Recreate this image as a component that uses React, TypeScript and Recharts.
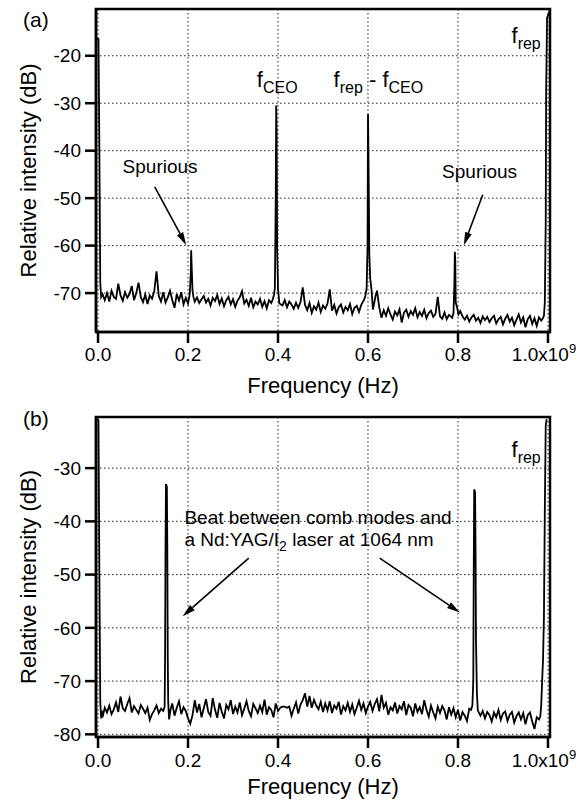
import { LineChart, Line, XAxis, YAxis, CartesianGrid, ReferenceArea, ReferenceLine, ReferenceDot } from "recharts";

const FONT = '"Liberation Sans", Arial, Helvetica, sans-serif';

// frequency axis in units of 1e9 Hz
const X_TICKS = [0, 0.2, 0.4, 0.6, 0.8, 1.0];
const X_DOMAIN: [number, number] = [-0.0045, 1.0045];
const Y_TICKS_A = [-70, -60, -50, -40, -30, -20];
const Y_DOMAIN_A: [number, number] = [-78.2, -10.15];
const Y_TICKS_B = [-80, -70, -60, -50, -40, -30];
const Y_DOMAIN_B: [number, number] = [-80.5, -20.4];

// noise floor sampled every 0.005 starting at 0.010
const NOISE_START = 0.01;
const NOISE_STEP = 0.005;

const NOISE_A = [
  -70.2, -71.5, -70.0, -71.8, -69.5, -70.8, -71.2, -68.0, -70.5, -71.6,
  -69.8, -71.0, -70.2, -68.5, -71.5, -70.0, -67.8, -70.8, -71.9, -70.3,
  -72.3, -70.5, -71.2, -69.6, -65.4, -70.6, -71.8, -69.8, -72.0, -70.9,
  -69.5, -71.5, -73.1, -70.2, -71.6, -69.8, -72.4, -71.0, -72.2, -70.8,
  -70.5, -71.8, -70.9, -72.1, -71.3, -70.6, -72.0, -71.2, -72.6, -71.0,
  -71.7, -70.4, -72.3, -71.1, -72.8, -71.5, -70.8, -72.4, -71.3, -72.9,
  -71.6, -70.9, -69.6, -72.2, -71.4, -72.7, -71.0, -73.0, -71.8, -72.4,
  -71.2, -72.9, -71.7, -73.2, -71.5, -72.1, -71.0, -72.0, -72.0, -72.3,
  -72.6, -71.5, -73.0, -71.8, -72.4, -73.3, -72.0, -73.1, -71.9, -68.8,
  -72.5, -73.6, -72.1, -74.2, -72.8, -73.5, -72.0, -74.0, -72.6, -73.3,
  -72.2, -69.2, -73.7, -72.5, -74.3, -73.0, -72.4, -74.1, -72.9, -73.6,
  -72.3, -74.4, -73.1, -72.7, -74.0, -72.5, -71.6, -72.0, -72.0, -72.0,
  -72.0, -72.0, -69.5, -73.0, -75.2, -73.6, -74.8, -73.2, -74.5, -75.6,
  -73.9, -74.7, -73.4, -76.2, -74.1, -73.5, -75.0, -73.8, -74.6, -73.2,
  -75.1, -74.0, -74.8, -73.5, -75.3, -74.2, -73.7, -75.0, -74.4, -70.8,
  -74.9, -75.4, -74.1, -75.5, -74.6, -75.0, -75.0, -75.0, -75.0, -73.8,
  -74.9, -75.6, -74.8, -76.0, -75.1, -74.6, -75.8, -75.2, -76.3, -74.9,
  -75.7, -75.0, -76.1, -75.3, -74.8, -76.4, -75.5, -75.0, -76.6, -75.4,
  -74.6, -76.0, -75.2, -76.8, -75.6, -74.5, -76.2, -75.1, -77.2, -75.5,
  -74.8, -76.5, -75.3, -76.9, -75.1, -75.8,
];

// sharp lines in panel (a): [frequency, dB]
const PEAKS_A: [number, number][][] = [
  [[-0.0045, -16.3], [0.001, -16.5], [0.003, -40], [0.005, -68], [0.007, -70.8]],
  [[0.202, -71.2], [0.204, -70.0], [0.206, -66], [0.207, -61.0], [0.208, -64], [0.21, -69.5], [0.212, -70.8]],
  [[0.388, -71.4], [0.391, -70.4], [0.393, -69], [0.395, -50], [0.396, -30.5], [0.397, -36], [0.398, -60], [0.4, -69], [0.403, -72.2]],
  [[0.591, -71.5], [0.594, -70.6], [0.597, -69], [0.599, -60], [0.6, -32.3], [0.601, -40], [0.603, -62], [0.605, -67], [0.608, -69.5], [0.611, -73.5], [0.614, -72.0], [0.617, -70.5]],
  [[0.787, -75.2], [0.79, -74.2], [0.792, -68], [0.793, -61.3], [0.794, -63], [0.795, -72], [0.798, -73], [0.801, -74.5]],
  [[0.988, -75.4], [0.991, -74.8], [0.993, -72], [0.995, -55], [0.996, -27], [0.998, -12], [1.0045, -10.4]],
];

const NOISE_B = [
  -76.8, -75.0, -75.9, -74.6, -76.2, -75.3, -74.0, -75.8, -72.9, -75.1,
  -75.6, -74.3, -73.2, -75.9, -74.7, -75.4, -76.1, -74.5, -75.2, -76.0,
  -75.0, -77.3, -76.2, -75.5, -74.6, -76.0, -75.2, -75.7, -75.0, -75.0,
  -75.8, -74.2, -76.5, -75.0, -73.8, -76.2, -74.9, -75.6, -77.0, -78.0,
  -76.4, -73.6, -75.9, -74.3, -76.8, -75.1, -73.4, -75.8, -76.5, -73.2,
  -75.4, -76.9, -74.1, -75.7, -77.0, -74.5, -75.3, -73.6, -76.2, -74.8,
  -75.9, -74.0, -76.4, -75.2, -73.8, -75.6, -76.6, -74.3, -75.1, -76.0,
  -74.6, -75.8, -73.5, -76.3, -74.9, -75.4, -76.8, -74.2, -75.6, -75.0,
  -74.8, -74.8, -75.0, -74.8, -76.5, -75.2, -74.0, -76.1, -74.4, -73.6,
  -72.3, -74.8, -72.8, -75.0, -73.5, -74.6, -75.3, -73.9, -75.8, -74.2,
  -75.5, -73.8, -76.0, -74.6, -75.2, -73.9, -76.3, -74.7, -75.5, -74.1,
  -75.8, -74.4, -76.2, -75.0, -73.7, -75.4, -74.2, -76.0, -74.8, -73.9,
  -75.6, -74.3, -73.4, -75.7, -72.6, -75.0, -74.1, -76.3, -74.9, -75.5,
  -74.0, -76.1, -74.7, -75.3, -73.8, -76.4, -74.5, -75.0, -76.6, -74.2,
  -75.8, -74.9, -76.2, -73.6, -75.4, -76.7, -74.6, -75.9, -77.0, -74.8,
  -76.0, -74.7, -75.5, -77.2, -74.9, -76.3, -75.1, -76.8, -75.4, -77.4,
  -75.8, -76.5, -77.5, -75.2, -75.0, -75.0, -75.0, -75.0, -76.5, -75.6,
  -77.0, -75.8, -76.4, -77.6, -75.9, -76.8, -75.4, -77.3, -76.1, -75.7,
  -77.5, -76.3, -75.8, -77.8, -76.6, -75.9, -77.2, -76.0, -78.1, -76.4,
  -75.9, -77.6, -79.0, -76.8,
];

const PEAKS_B: [number, number][][] = [
  [[-0.0045, -20.5], [0.001, -21], [0.003, -50], [0.005, -74], [0.007, -77], [0.008, -75.5]],
  [[0.145, -75.6], [0.148, -74.8], [0.149, -66], [0.15, -45], [0.151, -33], [0.153, -33.5], [0.154, -45], [0.155, -66], [0.156, -74], [0.158, -77.2], [0.161, -75.4]],
  [[0.829, -75.4], [0.832, -74.6], [0.834, -70], [0.835, -50], [0.836, -34], [0.838, -34.5], [0.839, -45], [0.84, -62], [0.842, -72], [0.844, -75.5], [0.847, -76.0]],
  [[0.98, -77.2], [0.983, -76.6], [0.985, -74.5], [0.987, -70], [0.989, -66], [0.991, -58], [0.993, -38], [0.995, -22], [0.997, -20.8]],
];

function buildSpectrum(noise: number[], peaks: [number, number][][]) {
  const pts: { f: number; db: number }[] = [];
  noise.forEach((db, i) => {
    const f = +(NOISE_START + i * NOISE_STEP).toFixed(3);
    const inPeak = peaks.some((g) => f >= g[0][0] && f <= g[g.length - 1][0]);
    if (!inPeak) pts.push({ f, db });
  });
  peaks.forEach((g) => g.forEach(([f, db]) => pts.push({ f, db })));
  return pts.sort((a, b) => a.f - b.f);
}

const SPEC_A = buildSpectrum(NOISE_A, PEAKS_A);
const SPEC_B = buildSpectrum(NOISE_B, PEAKS_B);

function Arrow(props: any) {
  const { x1, y1, x2, y2 } = props;
  const ang = Math.atan2(y2 - y1, x2 - x1);
  const len = 13;
  const half = 3.5;
  const bx = x2 - len * Math.cos(ang);
  const by = y2 - len * Math.sin(ang);
  const px = -Math.sin(ang) * half;
  const py = Math.cos(ang) * half;
  return (
    <g>
      <line x1={x1} y1={y1} x2={bx} y2={by} stroke="#000" strokeWidth={1.6} />
      <polygon points={`${x2},${y2} ${bx + px},${by + py} ${bx - px},${by - py}`} fill="#000" />
    </g>
  );
}

const textAt = (content: any, anchor = "start", size = 19) => (p: any) => (
  <text x={p.cx} y={p.cy} textAnchor={anchor} fontSize={size} fontFamily={FONT} fill="#000">
    {content}
  </text>
);

const fSub = (sub: string) => [
  <tspan key="f" fontSize={22}>f</tspan>,
  <tspan key="s" fontSize={16} dy={6}>{sub}</tspan>,
];

const beatText = (p: any) => (
  <text x={p.cx} y={p.cy} fontSize={19} fontFamily={FONT} fill="#000">
    <tspan x={p.cx}>Beat between comb modes and</tspan>
    <tspan x={p.cx} dy={22}>a Nd:YAG/I</tspan>
    <tspan fontSize={14} dy={5}>2</tspan>
    <tspan dy={-5}> laser at 1064 nm</tspan>
  </text>
);

const XTick = (props: any) => {
  const { x, y, payload } = props;
  const v = payload.value;
  if (v === 1) {
    return (
      <text x={x - 4} y={y} dy="0.75em" textAnchor="middle" fontSize={19} fontFamily={FONT} fill="#000">
        1.0x10<tspan dy={-8} fontSize={13}>9</tspan>
      </text>
    );
  }
  return (
    <text x={x} y={y} dy="0.75em" textAnchor="middle" fontSize={19} fontFamily={FONT} fill="#000">
      {v.toFixed(1)}
    </text>
  );
};

const yTitle = (p: any) => {
  const vb = p.viewBox;
  const cy = vb.y + vb.height / 2;
  return (
    <text x={28} y={cy} transform={`rotate(-90 28 ${cy})`} textAnchor="middle" dominantBaseline="central" fontSize={22} fontFamily={FONT} fill="#000">
      Relative intensity (dB)
    </text>
  );
};

const xTitle = (offset: number) => (p: any) => {
  const vb = p.viewBox;
  return (
    <text x={vb.x + vb.width / 2} y={vb.y + offset} textAnchor="middle" dominantBaseline="central" fontSize={22} fontFamily={FONT} fill="#000">
      Frequency (Hz)
    </text>
  );
};

function Panel({ data, yDomain, yTicks, height, top, axisHeight, xTitleOffset, tickMargin, children }: any) {
  return (
    <LineChart width={578} height={height} data={data} margin={{ top, right: 28, left: 16, bottom: 0 }}>
      <CartesianGrid stroke="#222" strokeDasharray="1.5 2.5" strokeWidth={1} />
      <XAxis
        dataKey="f"
        type="number"
        domain={X_DOMAIN}
        ticks={X_TICKS}
        interval={0}
        allowDataOverflow
        height={axisHeight}
        tick={<XTick />}
        tickSize={11}
        tickMargin={tickMargin}
        tickLine={{ stroke: "#000", strokeWidth: 2.5 }}
        axisLine={{ stroke: "#000", strokeWidth: 2.5 }}
        label={{ content: xTitle(xTitleOffset) }}
      />
      <YAxis
        type="number"
        domain={yDomain}
        ticks={yTicks}
        interval={0}
        allowDataOverflow
        width={80}
        tick={{ fontSize: 19, fill: "#000", fontFamily: FONT }}
        tickSize={11}
        tickMargin={4}
        tickLine={{ stroke: "#000", strokeWidth: 2.5 }}
        axisLine={{ stroke: "#000", strokeWidth: 2.5 }}
        label={{ content: yTitle }}
      />
      <ReferenceArea x1={X_DOMAIN[0]} x2={X_DOMAIN[1]} y1={yDomain[0]} y2={yDomain[1]} fill="none" fillOpacity={0} stroke="#000" strokeWidth={2.5} ifOverflow="visible" />
      <Line dataKey="db" type="linear" stroke="#000" strokeWidth={1.8} dot={false} isAnimationActive={false} />
      {children}
    </LineChart>
  );
}

export default function App() {
  return (
    <div style={{ position: "relative", width: 578, height: 804, background: "#fff", fontFamily: FONT }}>
      <style>{"body{margin:0}"}</style>
      <div style={{ position: "absolute", left: 23, top: 8, fontSize: 21, zIndex: 2 }}>(a)</div>
      <div style={{ position: "absolute", left: 23, top: 407, fontSize: 21, zIndex: 2 }}>(b)</div>
      <div style={{ position: "absolute", left: 0, top: 0 }}>
        <Panel data={SPEC_A} yDomain={Y_DOMAIN_A} yTicks={Y_TICKS_A} height={400} top={9} axisHeight={68} xTitleOffset={53} tickMargin={4}>
          <ReferenceDot x={0.138} y={-44.7} r={0} shape={textAt("Spurious", "middle", 19)} />
          <ReferenceDot x={0.848} y={-45.8} r={0} shape={textAt("Spurious", "middle", 19)} />
          <ReferenceLine segment={[{ x: 0.126, y: -47.6 }, { x: 0.196, y: -59.9 }]} shape={Arrow} />
          <ReferenceLine segment={[{ x: 0.855, y: -49.3 }, { x: 0.813, y: -59.9 }]} shape={Arrow} />
          <ReferenceDot x={0.353} y={-26.6} r={0} shape={textAt(fSub("CEO"))} />
          <ReferenceDot
            x={0.5236}
            y={-26.6}
            r={0}
            shape={textAt([
              ...fSub("rep"),
              <tspan key="m" fontSize={22} dy={-6}> - f</tspan>,
              <tspan key="c" fontSize={16} dy={6}>CEO</tspan>,
            ])}
          />
          <ReferenceDot x={0.919} y={-17.3} r={0} shape={textAt(fSub("rep"))} />
        </Panel>
      </div>
      <div style={{ position: "absolute", left: 0, top: 400 }}>
        <Panel data={SPEC_B} yDomain={Y_DOMAIN_B} yTicks={Y_TICKS_B} height={404} top={17} axisHeight={67} xTitleOffset={49} tickMargin={5}>
          <ReferenceDot x={0.192} y={-40.45} r={0} shape={beatText} />
          <ReferenceLine segment={[{ x: 0.335, y: -46.9 }, { x: 0.188, y: -57.8 }]} shape={Arrow} />
          <ReferenceLine segment={[{ x: 0.626, y: -46.9 }, { x: 0.804, y: -57.1 }]} shape={Arrow} />
          <ReferenceDot x={0.919} y={-27.9} r={0} shape={textAt(fSub("rep"))} />
        </Panel>
      </div>
    </div>
  );
}
